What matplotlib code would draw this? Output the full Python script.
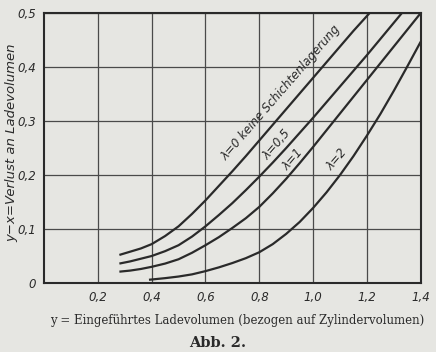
import matplotlib.pyplot as plt

# curve readings (x = charged volume y, loss = y - x)
x_l0 = [0.28, 0.32, 0.36, 0.40, 0.45, 0.50, 0.55, 0.60, 0.65, 0.70, 0.75,
        0.80, 0.85, 0.90, 0.95, 1.00, 1.05, 1.10, 1.15, 1.21]
y_l0 = [0.052, 0.058, 0.064, 0.072, 0.087, 0.105, 0.128, 0.153, 0.180, 0.207,
        0.235, 0.264, 0.293, 0.322, 0.351, 0.380, 0.409, 0.438, 0.467, 0.500]

x_l05 = [0.28, 0.32, 0.36, 0.40, 0.45, 0.50, 0.55, 0.60, 0.65, 0.70, 0.75,
         0.80, 0.85, 0.90, 0.95, 1.00, 1.05, 1.10, 1.15, 1.20, 1.25, 1.33]
y_l05 = [0.036, 0.040, 0.045, 0.050, 0.059, 0.070, 0.086, 0.105, 0.126, 0.148,
         0.172, 0.197, 0.223, 0.250, 0.278, 0.306, 0.335, 0.364, 0.393, 0.422,
         0.452, 0.500]

x_l1 = [0.28, 0.32, 0.36, 0.40, 0.45, 0.50, 0.55, 0.60, 0.65, 0.70, 0.75, 0.80,
        0.85, 0.90, 0.95, 1.00, 1.05, 1.10, 1.15, 1.20, 1.25, 1.30, 1.35, 1.40]
y_l1 = [0.021, 0.023, 0.026, 0.030, 0.036, 0.044, 0.056, 0.070, 0.085, 0.102,
        0.120, 0.141, 0.166, 0.193, 0.222, 0.252, 0.283, 0.314, 0.345, 0.376,
        0.407, 0.438, 0.469, 0.500]

x_l2 = [0.39, 0.45, 0.50, 0.55, 0.60, 0.65, 0.70, 0.75, 0.80, 0.85, 0.90,
        0.95, 1.00, 1.05, 1.10, 1.15, 1.20, 1.25, 1.30, 1.35, 1.40]
y_l2 = [0.006, 0.009, 0.012, 0.016, 0.022, 0.029, 0.037, 0.046, 0.057, 0.072,
        0.091, 0.113, 0.139, 0.168, 0.200, 0.235, 0.273, 0.313, 0.356, 0.401,
        0.447]

xticks = [0.2, 0.4, 0.6, 0.8, 1.0, 1.2, 1.4]
xtick_labels = ["0,2", "0,4", "0,6", "0,8", "1,0", "1,2", "1,4"]
yticks = [0, 0.1, 0.2, 0.3, 0.4, 0.5]
ytick_labels = ["0", "0,1", "0,2", "0,3", "0,4", "0,5"]

paper = "#e6e6e2"
ink = "#2a2a2a"

fig = plt.figure(figsize=(4.36, 3.52), dpi=100, facecolor=paper)
ax = fig.add_axes([0.101, 0.196, 0.864, 0.767])
ax.set_facecolor(paper)

for xs, ys in [(x_l0, y_l0), (x_l05, y_l05), (x_l1, y_l1), (x_l2, y_l2)]:
    ax.plot(xs, ys, color=ink, lw=1.6, solid_capstyle="butt",
            solid_joinstyle="round")

ax.set_xlim(0, 1.4)
ax.set_ylim(0, 0.5)
ax.set_xticks(xticks)
ax.set_xticklabels(xtick_labels, fontstyle="italic", fontsize=8.5, color=ink)
ax.set_yticks(yticks)
ax.set_yticklabels(ytick_labels, fontstyle="italic", fontsize=8.5, color=ink)
ax.tick_params(length=0, pad=6)
ax.grid(True, color="#4a4a4a", lw=0.9)
for s in ax.spines.values():
    s.set_color(ink)
    s.set_linewidth(1.5)

ax.set_ylabel("y\u2212x=Verlust an Ladevolumen", fontstyle="italic",
              fontsize=9.5, color=ink)
ax.yaxis.set_label_coords(-0.068, 0.52)

lab = dict(rotation=49, fontstyle="italic", fontsize=8.5, color=ink,
           ha="center", va="center")
ax.text(0.881, 0.353, "\u03bb=0 keine Schichtenlagerung", **lab)
ax.text(0.865, 0.256, "\u03bb=0,5", **lab)
ax.text(0.925, 0.228, "\u03bb=1", **lab)
ax.text(1.088, 0.228, "\u03bb=2", **lab)

fig.text(0.545, 0.09, "y = Eingeführtes Ladevolumen (bezogen auf Zylindervolumen)",
         family="DejaVu Serif", fontsize=8.5, color=ink, ha="center", va="center")
fig.text(0.5, 0.025, "Abb. 2.", family="DejaVu Serif", fontweight="bold",
         fontsize=10.5, color=ink, ha="center", va="center")

fig.savefig("out.png", dpi=100, facecolor=paper)
